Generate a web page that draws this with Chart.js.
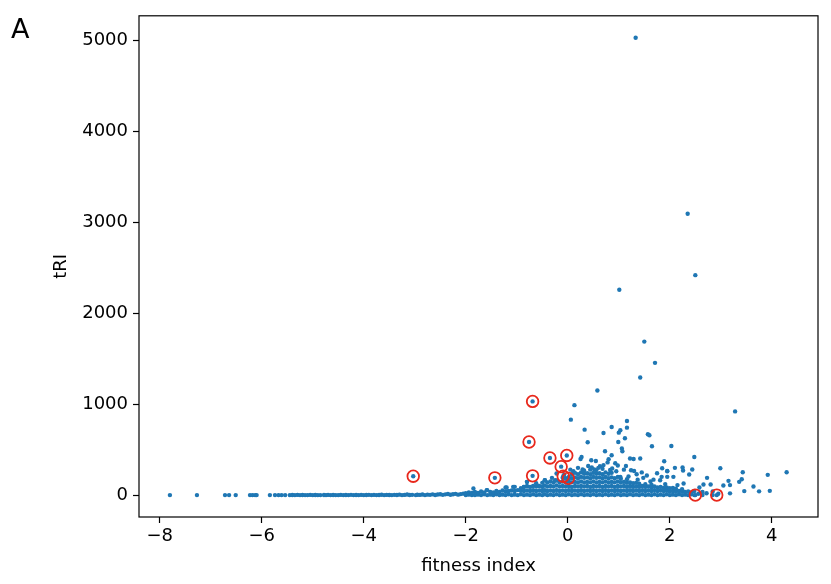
<!DOCTYPE html>
<html>
<head>
<meta charset="utf-8">
<script src="https://cdn.jsdelivr.net/npm/chart.js@4/dist/chart.umd.min.js"></script>
<style>
  html, body { margin: 0; padding: 0; background: #fff; }
  #wrap { width: 831px; height: 584px; }
</style>
</head>
<body>
<div id="wrap"><canvas id="fitChart" width="831" height="584"></canvas></div>
<script>
// tick labels
const xTicks = [-8, -6, -4, -2, 0, 2, 4];
const yTicks = [0, 1000, 2000, 3000, 4000, 5000];

// left tail, sits on tRI ~ 0
const tailPts = [[-7.80,0],[-7.27,0],[-6.72,0],[-6.64,0],[-6.51,0],[-6.23,0],[-6.18,0],[-6.13,0],[-6.10,0],
  [-5.84,0],[-5.74,0],[-5.67,0],[-5.61,0],[-5.54,0]];

// the continuous band from -5.5 to -2
const bandPts = [[-5.45,0],[-5.40,1],[-5.35,0],[-5.30,2],[-5.25,0],[-5.20,1],[-5.15,0],[-5.10,0],[-5.05,2],[-5.00,0],
  [-4.95,1],[-4.90,0],[-4.85,0],[-4.78,1],[-4.74,0],[-4.70,2],[-4.65,0],[-4.60,1],[-4.55,0],[-4.50,0],
  [-4.45,2],[-4.40,0],[-4.35,1],[-4.30,0],[-4.25,3],[-4.20,0],[-4.15,1],[-4.10,0],[-4.05,2],[-4.00,0],
  [-3.95,1],[-3.90,3],[-3.85,0],[-3.80,2],[-3.75,0],[-3.70,1],[-3.65,4],[-3.60,0],[-3.55,2],[-3.50,1],
  [-3.45,0],[-3.40,3],[-3.35,1],[-3.30,5],[-3.25,0],[-3.20,2],[-3.15,6],[-3.10,1],[-3.05,3],[-2.98,0],
  [-2.95,4],[-2.90,2],[-2.85,7],[-2.80,0],[-2.75,5],[-2.70,3],[-2.65,8],[-2.60,1],[-2.55,6],[-2.50,10],
  [-2.45,3],[-2.40,8],[-2.35,12],[-2.30,4],[-2.25,9],[-2.20,14],[-2.15,5],[-2.10,11],[-2.05,16]];

// dense body: [fitness, tRI values at that fitness...]
const bodyCols = [
  [-2.00,0,20],[-1.94,5,30],[-1.88,0,25],[-1.82,0,35],[-1.76,5,25],[-1.70,0,40],[-1.64,10,30],[-1.58,0,55],
  [-1.52,5,35],[-1.46,0,30],[-1.40,10,45],[-1.34,0,35],[-1.28,5,50],[-1.22,0,40,84],[-1.16,10,45],[-1.10,0,50],
  [-1.04,5,45,91],[-0.98,0,55],[-0.92,10,50,75],[-0.86,0,45,91],[-0.80,5,50,100,146],[-0.74,0,45,90],
  [-0.68,10,55,100],[-0.62,0,45,95,130],[-0.56,5,50,100],[-0.50,0,45,90,135],[-0.45,10,55,105,164],
  [-0.40,0,45,95,140],[-0.34,5,50,100,150],[-0.28,0,45,95,140],[-0.22,10,55,105,160,238],[-0.16,0,45,95,140],
  [-0.10,5,50,100,150,190],[-0.04,0,45,95,140,185],[0.02,10,55,100,150,200],[0.08,0,45,90,140,185,230],
  [0.14,5,50,100,145,195,245],[0.20,0,45,95,140,185,230],[0.26,10,55,100,150,200,250],
  [0.32,0,45,95,140,190,235,270],[0.38,5,50,100,145,195,240],[0.44,0,45,90,140,185,230,280],
  [0.50,10,55,100,150,200,245],[0.56,0,45,95,140,190,235,275],[0.62,5,50,100,145,195,240],
  [0.68,0,45,90,140,185,230,290],[0.74,10,55,100,150,200,250],[0.80,0,45,95,140,185,235],
  [0.86,5,50,100,145,195,245],[0.92,0,45,90,140,185],[0.98,10,55,100,150,200],[1.04,0,45,95,140,180],
  [1.10,5,50,100,145],[1.16,0,45,90,135,175],[1.22,10,55,100,140],[1.28,0,45,90,130],[1.34,5,50,95,135],
  [1.40,0,45,90,125],[1.46,10,55,100],[1.52,0,45,90,120],[1.58,5,50,95],[1.64,0,45,85,115],[1.70,10,55,95],
  [1.76,0,45,85],[1.82,5,50,90],[1.88,0,45,80],[1.94,10,50,85],[2.00,0,40,75],[2.06,5,45,80],[2.12,0,40,70],
  [2.18,10,45],[2.24,0,40,65],[2.30,5,35],[2.36,0,40],[2.42,10,30],[2.48,0,45],[2.56,15],[2.64,0,35],
  [2.72,20],[2.84,0,40],[2.95,15]];

// scattered points above the body
const scatterPts = [[-1.85,73],[-1.59,55],[-1.20,84],[-1.07,91],[-0.86,91],[-0.80,146],[-0.45,164],[-0.25,164],
  [1.33,5033],[2.35,3096],[2.50,2420],[1.01,2259],[1.50,1689],[1.71,1455],[1.42,1294],[0.58,1151],[3.28,921],
  [0.13,990],[0.06,830],[0.33,720],[0.70,683],[0.86,749],[1.16,815],[1.16,742],[1.03,713],[1.00,687],
  [0.39,581],[1.12,625],[0.99,585],[1.57,669],[1.60,658],[1.65,537],[1.06,512],[1.07,482],[0.73,482],
  [0.86,438],[0.27,420],[0.25,398],[0.46,384],[0.55,376],[0.80,395],[1.22,402],[1.29,398],[1.42,402],
  [1.89,373],[0.98,326],[1.14,321],[1.24,274],[0.87,293],[1.85,296],[1.95,266],[1.84,201],[1.03,201],
  [0.52,282],[0.63,318],[2.03,541],[2.48,420],[2.10,300],[2.25,303],[2.26,270],[2.44,282],[2.99,296],
  [3.43,252],[4.29,252],[3.92,223],[1.95,263],[2.07,201],[1.95,201],[2.38,227],[2.73,190],[3.41,175],
  [3.15,157],[3.36,146],[3.05,106],[3.18,110],[3.64,95],[2.66,117],[2.80,117],[2.27,128],[2.58,84],
  [3.18,19],[3.46,44],[3.75,41],[3.96,47],[1.81,164],[1.91,121],[1.35,230],[1.48,190],[1.55,215],
  [1.68,170],[1.75,240],[1.30,265],[1.45,250],[0.93,350],[0.40,320],[0.20,300],[0.05,280],[0.70,330],
  [0.78,360],[1.10,280],[0.11,262],[0.29,282],[0.60,300],[0.95,262],[1.19,205],[-0.07,228],[-0.31,190],
  [1.37,170],[1.62,150],[2.15,110],[0.47,305],[0.83,276]];

// highlighted genes (red rings)
const markX = [-3.03, -1.43, -0.69, -0.76, -0.35, -0.02, -0.13, -0.69, -0.09, 0.01, 2.50, 2.92];
const markY = [208, 190, 1031, 584, 409, 436, 313, 212, 208, 184, 0, 0];

const FONT = 'DejaVu Sans';
const fmt = v => String(v).replace('-', '\u2212');

const bluePts = [];
tailPts.concat(bandPts, scatterPts).forEach(p => bluePts.push({ x: p[0], y: p[1] }));
bodyCols.forEach(c => c.slice(1).forEach(y => bluePts.push({ x: c[0], y })));
const markPts = markX.map((x, i) => ({ x, y: markY[i] }));
markPts.forEach(p => bluePts.push({ x: p.x, y: p.y }));

const framePlugin = {
  id: 'frame',
  afterDraw(chart) {
    const { ctx, chartArea: a } = chart;
    ctx.save();
    ctx.strokeStyle = '#000';
    ctx.lineWidth = 1.2;
    ctx.strokeRect(a.left, a.top, a.right - a.left, a.bottom - a.top);
    ctx.fillStyle = '#000';
    ctx.font = '27px "' + FONT + '"';
    ctx.textBaseline = 'alphabetic';
    ctx.fillText('A', 11, 38);
    ctx.restore();
  }
};

new Chart(document.getElementById('fitChart'), {
  type: 'scatter',
  data: {
    datasets: [
      { data: markPts, pointRadius: 5.8, pointStyle: 'circle', backgroundColor: 'rgba(0,0,0,0)',
        borderColor: '#e8281c', borderWidth: 1.8, order: 0 },
      { data: bluePts, pointRadius: 2.2, backgroundColor: '#1f77b4', borderWidth: 0, order: 1 },
    ]
  },
  plugins: [framePlugin],
  options: {
    responsive: false, animation: false, devicePixelRatio: 1,
    layout: { padding: { left: 0, right: 13, top: 14, bottom: 0 } },
    plugins: { legend: { display: false }, tooltip: { enabled: false } },
    scales: {
      x: {
        type: 'linear', min: -8.406, max: 4.905,
        afterBuildTicks: s => { s.ticks = xTicks.map(v => ({ value: v })); },
        afterFit: s => { s.height = 67; },
        border: { display: false },
        grid: { drawOnChartArea: false, drawTicks: true, tickLength: 6, tickColor: '#000', tickWidth: 1.2 },
        ticks: { color: '#000', font: { family: FONT, size: 18 }, padding: 3, maxRotation: 0, callback: fmt },
        title: { display: true, text: 'fitness index', color: '#000', font: { family: FONT, size: 18 },
                 padding: { top: 0, bottom: 7 } }
      },
      y: {
        type: 'linear', min: -241, max: 5274,
        afterBuildTicks: s => { s.ticks = yTicks.map(v => ({ value: v })); },
        afterFit: s => { s.width = 139; },
        border: { display: false },
        grid: { drawOnChartArea: false, drawTicks: true, tickLength: 6, tickColor: '#000', tickWidth: 1.2 },
        ticks: { color: '#000', font: { family: FONT, size: 18 }, padding: 5, callback: fmt },
        title: { display: true, text: 'tRI', color: '#000', font: { family: FONT, size: 18 },
                 padding: { top: 51, bottom: 0 } }
      }
    }
  }
});
</script>
</body>
</html>
